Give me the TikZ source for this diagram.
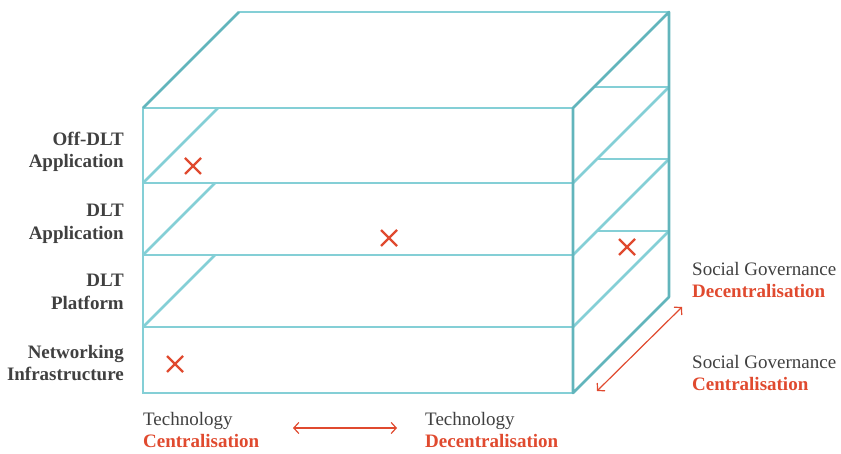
\documentclass[tikz,border=0pt]{standalone}
\usepackage{fontspec}
\setmainfont{Liberation Serif}
\usetikzlibrary{arrows.meta}

\definecolor{shelfteal}{HTML}{84CFD6}
\definecolor{rimteal}{HTML}{62B5BC}
\definecolor{markred}{HTML}{E04A2F}
\definecolor{labelgray}{HTML}{404040}

\newcommand{\redword}[1]{{\color{markred}\bfseries #1}}

\tikzset{
  shelf/.style={shelfteal,line width=2.6pt},
  rim/.style={rimteal,line width=2.6pt,line join=round},
  cross/.style={markred,line width=2.4pt},
  layerlabel/.style={anchor=east,align=right,inner sep=0pt,text=labelgray,
    font=\fontsize{19}{22.5}\selectfont\bfseries},
  axislabel/.style={anchor=west,align=left,inner sep=0pt,text=labelgray,
    font=\fontsize{19}{22.5}\selectfont},
  axisarrow/.style={markred,line width=1.2pt,
    {Straight Barb[length=5pt,width=11pt]}-{Straight Barb[length=5pt,width=11pt]}},
}

\begin{document}
\begin{tikzpicture}[x=1pt,y=-1pt]
  \useasboundingbox (0,0) rectangle (841,454);

  % front face and the layer boundaries
  \draw[shelf] (143,108) rectangle (573,393);
  \foreach \y in {183,255,327}
    \draw[shelf] (143,\y) -- (573,\y);

  % shelves seen through the front, upper three layers only
  \draw[shelf] (143,183) -- (218,108);
  \draw[shelf] (143,255) -- (215,183);
  \draw[shelf] (143,327) -- (215,255);

  % top face
  \draw[shelf] (239,12) -- (669,12);

  % side face, one diagonal and one short shelf per layer
  \foreach \y in {183,255,327}
    \draw[shelf] (573,\y) -- ++(96,-96);
  \draw[shelf] (594,87) -- (669,87);
  \draw[shelf] (597,159) -- (669,159);
  \draw[shelf] (597,231) -- (669,231);

  % outer edges, a shade darker
  \draw[rim] (143,108) -- (239,12);
  \draw[rim] (573,108) -- (669,12) -- (669,297) -- (573,393) -- cycle;

  % where each layer sits
  \foreach \p in {(193,166),(389,238),(627,247),(175,364)}
    \draw[cross] \p ++(-8,-8) -- ++(16,16) \p ++(-8,8) -- ++(16,-16);

  % layer names
  \node[layerlabel] (offdlt)  at (124,152) {Off-DLT\\Application};
  \node[layerlabel] (dltapp)  at (124,224) {DLT\\Application};
  \node[layerlabel] (dltplat) at (124,292) {DLT\\Platform};
  \node[layerlabel] (netinf)  at (124,363) {Networking\\Infrastructure};

  % technology axis
  \node[axislabel] (techcent) at (143,430) {Technology\\\redword{Centralisation}};
  \node[axislabel] (techdec)  at (425,430) {Technology\\\redword{Decentralisation}};
  \coordinate (techleft)  at (293,428);
  \coordinate (techright) at (397,428);
  \draw[axisarrow] (techleft) -- (techright);

  % governance axis
  \node[axislabel] (govdec)  at (692,280) {Social Governance\\\redword{Decentralisation}};
  \node[axislabel] (govcent) at (692,373) {Social Governance\\\redword{Centralisation}};
  \coordinate (govnear) at (597,391);
  \coordinate (govfar)  at (682,307);
  \draw[axisarrow] (govnear) -- (govfar);
\end{tikzpicture}
\end{document}
